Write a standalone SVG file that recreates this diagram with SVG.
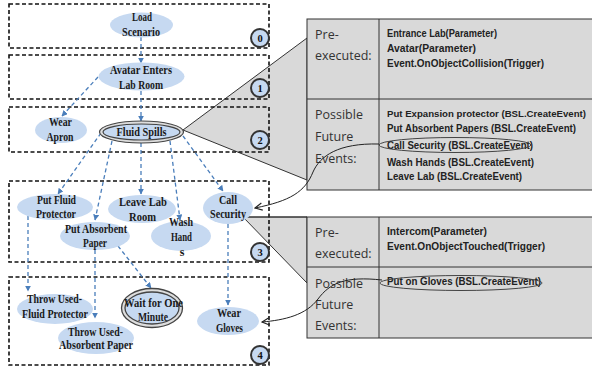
<svg xmlns="http://www.w3.org/2000/svg" width="592" height="370" viewBox="0 0 592 370">
<defs>
<marker id="ab" viewBox="0 0 10 10" refX="9" refY="5" markerWidth="6" markerHeight="6" orient="auto" markerUnits="userSpaceOnUse">
<path d="M0,0 L10,5 L0,10 z" fill="#4a7ebb"/>
</marker>
<marker id="ao" viewBox="0 0 10 10" refX="9" refY="5" markerWidth="9" markerHeight="9" orient="auto" markerUnits="userSpaceOnUse">
<path d="M1,1 L9,5 L1,9" fill="none" stroke="#222" stroke-width="1.3"/>
</marker>
<style>
.box{fill:none;stroke:#111;stroke-width:1.6;stroke-dasharray:4 2.5}
.nd{fill:#c6d9f1}
.t{font-family:"Liberation Serif","Times New Roman",serif;font-weight:bold;font-size:12px;fill:#1a1a1a;text-anchor:middle}
.num{fill:#c6d9f1;stroke:#333;stroke-width:2}
.nt{font-family:"Liberation Serif",serif;font-weight:bold;font-size:10.5px;fill:#111;text-anchor:middle}
.e{fill:none;stroke:#4a7ebb;stroke-width:1.3;stroke-dasharray:4 3;marker-end:url(#ab)}
.tb{fill:#d9d9d9;stroke:#333;stroke-width:1}
.ln{stroke:#333;stroke-width:1}
.lc{font-family:"Open Sans","Liberation Sans",sans-serif;font-size:12.5px;fill:#333}
.rc{font-family:"Liberation Sans",Arial,sans-serif;font-weight:bold;font-size:11px;fill:#222}
.call{fill:#d9d9d9;stroke:#333;stroke-width:1}
.cv{fill:none;stroke:#222;stroke-width:1;marker-end:url(#ao)}
</style>
</defs>

<!-- callout wedges -->
<polygon class="call" points="183,130 307,38 307,180"/>
<polygon class="call" points="243,217 307,217 307,283"/>

<!-- tables -->
<g id="table1">
<rect class="tb" x="307" y="19" width="290" height="171"/>
<line class="ln" x1="379" y1="19" x2="379" y2="190"/>
<line class="ln" x1="307" y1="99" x2="592" y2="99"/>
<text class="lc" x="315" y="39">Pre-</text>
<text class="lc" x="315" y="60">executed:</text>
<text class="lc" x="315" y="119">Possible</text>
<text class="lc" x="315" y="141">Future</text>
<text class="lc" x="315" y="163">Events:</text>
<text class="rc" x="387" y="37" textLength="110" lengthAdjust="spacingAndGlyphs">Entrance Lab(Parameter)</text>
<text class="rc" x="387" y="52" textLength="89" lengthAdjust="spacingAndGlyphs">Avatar(Parameter)</text>
<text class="rc" x="387" y="67" textLength="157" lengthAdjust="spacingAndGlyphs">Event.OnObjectCollision(Trigger)</text>
<text class="rc" x="387" y="117" textLength="199" lengthAdjust="spacingAndGlyphs" style="font-size:9.5px">Put Expansion protector (BSL.CreateEvent)</text>
<text class="rc" x="387" y="132" textLength="189" lengthAdjust="spacingAndGlyphs" style="font-size:10px">Put Absorbent Papers (BSL.CreateEvent)</text>
<text class="rc" x="387" y="149" textLength="146" lengthAdjust="spacingAndGlyphs">Call Security (BSL.CreateEvent)</text>
<text class="rc" x="387" y="166" textLength="147" lengthAdjust="spacingAndGlyphs">Wash Hands (BSL.CreateEvent)</text>
<text class="rc" x="387" y="180" textLength="135" lengthAdjust="spacingAndGlyphs">Leave Lab (BSL.CreateEvent)</text>
<ellipse cx="455" cy="145" rx="76" ry="7.5" fill="none" stroke="#444" stroke-width="1"/>
</g>
<g id="table2">
<rect class="tb" x="307" y="217" width="290" height="121"/>
<line class="ln" x1="379" y1="217" x2="379" y2="338"/>
<line class="ln" x1="307" y1="267" x2="592" y2="267"/>
<text class="lc" x="315" y="237">Pre-</text>
<text class="lc" x="315" y="258">executed:</text>
<text class="lc" x="315" y="288">Possible</text>
<text class="lc" x="315" y="309">Future</text>
<text class="lc" x="315" y="330">Events:</text>
<text class="rc" x="387" y="235" textLength="100" lengthAdjust="spacingAndGlyphs">Intercom(Parameter)</text>
<text class="rc" x="387" y="250" textLength="158" lengthAdjust="spacingAndGlyphs">Event.OnObjectTouched(Trigger)</text>
<text class="rc" x="387" y="285" textLength="154" lengthAdjust="spacingAndGlyphs">Put on Gloves (BSL.CreateEvent)</text>
<ellipse cx="461" cy="283" rx="81" ry="7.5" fill="none" stroke="#444" stroke-width="1"/>
</g>

<!-- level boxes -->
<g id="levels">
<rect class="box" x="9" y="4" width="260" height="44"/>
<rect class="box" x="9" y="55" width="260" height="44"/>
<rect class="box" x="9" y="107" width="260" height="45"/>
<rect class="box" x="9" y="181" width="260" height="81"/>
<rect class="box" x="9" y="277" width="260" height="88"/>
</g>
<g id="level-labels">
<circle class="num" cx="260" cy="38" r="9"/><text class="nt" x="260" y="42">0</text>
<circle class="num" cx="260" cy="88" r="9"/><text class="nt" x="260" y="92">1</text>
<circle class="num" cx="260" cy="140" r="9"/><text class="nt" x="260" y="144">2</text>
<circle class="num" cx="260" cy="252" r="9"/><text class="nt" x="260" y="256">3</text>
<circle class="num" cx="260" cy="355" r="9"/><text class="nt" x="260" y="359">4</text>
</g>

<!-- connectors -->
<g id="connectors">
<line class="e" x1="141" y1="37" x2="141" y2="63"/>
<line class="e" x1="98" y1="77" x2="62" y2="116"/>
<line class="e" x1="141" y1="91" x2="141" y2="121"/>
<line class="e" x1="101" y1="133" x2="58" y2="194"/>
<line class="e" x1="112" y1="141" x2="95" y2="220"/>
<line class="e" x1="141" y1="143" x2="141" y2="194"/>
<line class="e" x1="170" y1="141" x2="180" y2="220"/>
<line class="e" x1="183" y1="136" x2="223" y2="191"/>
<line class="e" x1="28" y1="216" x2="28" y2="291"/>
<line class="e" x1="95" y1="250" x2="95" y2="318"/>
<line class="e" x1="118" y1="246" x2="151" y2="288"/>
<line class="e" x1="228" y1="224" x2="228" y2="305"/>
<line x1="247" y1="217" x2="307" y2="217" stroke="#333" stroke-width="1"/>
<path class="cv" d="M379,144 C338,143 320,156 313,172 C305,192 290,201 255,208"/>
<path class="cv" d="M382,280 C345,276 330,283 318,299 C306,315 285,320 262,322"/>
</g>

<!-- nodes -->
<g id="n-load"><ellipse class="nd" cx="141.5" cy="25" rx="31.5" ry="12.5"/><text class="t" x="142" y="21" textLength="20" lengthAdjust="spacingAndGlyphs">Load</text><text class="t" x="141" y="36" textLength="38" lengthAdjust="spacingAndGlyphs">Scenario</text></g>
<g id="n-avatar"><ellipse class="nd" cx="141.5" cy="76.5" rx="43" ry="14"/><text class="t" x="141" y="74" textLength="62" lengthAdjust="spacingAndGlyphs">Avatar  Enters</text><text class="t" x="141" y="89" textLength="44" lengthAdjust="spacingAndGlyphs">Lab Room</text></g>
<g id="n-apron"><ellipse class="nd" cx="61" cy="130" rx="26" ry="13"/><text class="t" x="60.5" y="126" textLength="23" lengthAdjust="spacingAndGlyphs">Wear</text><text class="t" x="60" y="141" textLength="27" lengthAdjust="spacingAndGlyphs">Apron</text></g>
<g id="n-fluid"><ellipse cx="141.5" cy="132" rx="42" ry="11" fill="#ddd" stroke="#444" stroke-width="1.2"/><ellipse class="nd" cx="141.5" cy="132" rx="38.5" ry="8" stroke="#444" stroke-width="1.2"/><text class="t" x="141.5" y="136" textLength="50" lengthAdjust="spacingAndGlyphs">Fluid Spills</text></g>
<g id="n-putfluid"><ellipse class="nd" cx="55" cy="207" rx="38" ry="13"/><text class="t" x="56.5" y="204" textLength="39" lengthAdjust="spacingAndGlyphs">Put Fluid</text><text class="t" x="56" y="218" textLength="40" lengthAdjust="spacingAndGlyphs">Protector</text></g>
<g id="n-leave"><ellipse class="nd" cx="142" cy="209" rx="34" ry="14"/><text class="t" x="143" y="206" textLength="48" lengthAdjust="spacingAndGlyphs" style="font-size:13px">Leave Lab</text><text class="t" x="142.5" y="221" textLength="27" lengthAdjust="spacingAndGlyphs" style="font-size:13px">Room</text></g>
<g id="n-wash"><ellipse class="nd" cx="181" cy="236" rx="30" ry="15"/><text class="t" x="181" y="226" textLength="24" lengthAdjust="spacingAndGlyphs">Wash</text><text class="t" x="181.5" y="241" textLength="21" lengthAdjust="spacingAndGlyphs">Hand</text><text class="t" x="182" y="256">s</text></g>
<g id="n-putabs"><ellipse class="nd" cx="95" cy="236" rx="35" ry="14"/><text class="t" x="96" y="233" textLength="62" lengthAdjust="spacingAndGlyphs">Put Absorbent</text><text class="t" x="95" y="247" textLength="24" lengthAdjust="spacingAndGlyphs">Paper</text></g>
<g id="n-call"><ellipse class="nd" cx="228" cy="208" rx="25" ry="16"/><text class="t" x="228" y="204" textLength="18" lengthAdjust="spacingAndGlyphs">Call</text><text class="t" x="228" y="218" textLength="36" lengthAdjust="spacingAndGlyphs">Security</text></g>
<g id="n-throwfluid"><ellipse class="nd" cx="55" cy="309" rx="38" ry="15"/><text class="t" x="54.5" y="303" textLength="55" lengthAdjust="spacingAndGlyphs">Throw  Used-</text><text class="t" x="55" y="318" textLength="66" lengthAdjust="spacingAndGlyphs">Fluid Protector</text></g>
<g id="n-throwabs"><ellipse class="nd" cx="96" cy="338" rx="38" ry="16"/><text class="t" x="95.5" y="336" textLength="55" lengthAdjust="spacingAndGlyphs">Throw  Used-</text><text class="t" x="96" y="349" textLength="74" lengthAdjust="spacingAndGlyphs">Absorbent  Paper</text></g>
<g id="n-wait"><ellipse cx="152" cy="308" rx="30.5" ry="19.5" fill="#ddd" stroke="#444" stroke-width="1.3"/><ellipse class="nd" cx="152" cy="308" rx="27" ry="16" stroke="#444" stroke-width="1.3"/><text class="t" x="153.5" y="307" textLength="59" lengthAdjust="spacingAndGlyphs">Wait for One</text><text class="t" x="153" y="321" textLength="30" lengthAdjust="spacingAndGlyphs">Minute</text></g>
<g id="n-gloves"><ellipse class="nd" cx="228" cy="321" rx="31" ry="14"/><text class="t" x="229" y="317" textLength="24" lengthAdjust="spacingAndGlyphs">Wear</text><text class="t" x="229.5" y="332" textLength="27" lengthAdjust="spacingAndGlyphs">Gloves</text></g>
</svg>
